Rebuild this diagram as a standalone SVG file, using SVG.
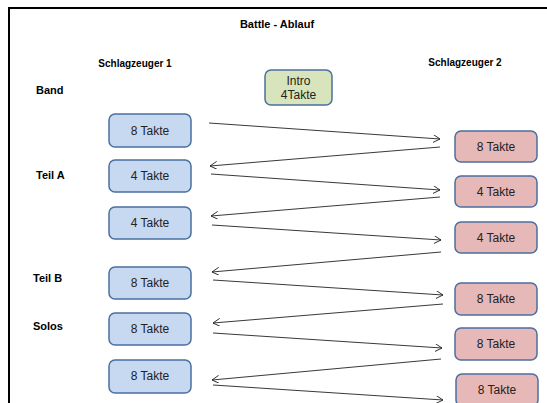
<svg xmlns="http://www.w3.org/2000/svg" width="547" height="403" viewBox="0 0 547 403">
<style>
.bl{font-family:"Liberation Sans",Arial,sans-serif;font-weight:bold;fill:#000}
.t{font-family:"Liberation Sans",Arial,sans-serif;font-size:12px;fill:#222;text-anchor:middle}
.b1{fill:#c6d9f0;stroke:#4a6fa0;stroke-width:1.5}
.b2{fill:#e6b8b7;stroke:#4a6fa0;stroke-width:1.5}
.b3{fill:#d7e4bc;stroke:#4a6fa0;stroke-width:1.5}
.c line{stroke:#222;stroke-width:0.9;marker-end:url(#ah)}
</style>
<defs>
<marker id="ah" markerUnits="userSpaceOnUse" markerWidth="10" markerHeight="10" refX="7" refY="4" orient="auto">
<path d="M0,0 L7,4 L0,8" fill="none" stroke="#222" stroke-width="0.9"/>
</marker>
</defs>
<rect x="0" y="0" width="547" height="403" fill="#fff"/>
<rect x="9" y="8" width="600" height="500" fill="none" stroke="#000" stroke-width="2"/>
<text class="bl" x="277" y="28" font-size="11" text-anchor="middle">Battle - Ablauf</text>
<text class="bl" x="135" y="67" font-size="10" text-anchor="middle">Schlagzeuger 1</text>
<text class="bl" x="465" y="66" font-size="10" text-anchor="middle">Schlagzeuger 2</text>
<text class="bl" x="36" y="94" font-size="11">Band</text>
<text class="bl" x="36" y="179" font-size="11">Teil A</text>
<text class="bl" x="33" y="282" font-size="11">Teil B</text>
<text class="bl" x="33" y="330" font-size="11">Solos</text>
<g id="intro"><rect class="b3" x="265" y="70" width="67" height="35" rx="6"/><text class="t" x="298.5" y="85">Intro</text><text class="t" x="298.5" y="99">4Takte</text></g>
<g id="l1"><rect class="b1" x="109" y="114" width="82" height="33" rx="6"/><text class="t" x="150" y="135">8 Takte</text></g>
<g id="l2"><rect class="b1" x="109" y="160" width="82" height="32" rx="6"/><text class="t" x="150" y="180">4 Takte</text></g>
<g id="l3"><rect class="b1" x="109" y="207" width="82" height="32" rx="6"/><text class="t" x="150" y="227">4 Takte</text></g>
<g id="l4"><rect class="b1" x="109" y="267" width="82" height="32" rx="6"/><text class="t" x="150" y="287">8 Takte</text></g>
<g id="l5"><rect class="b1" x="109" y="313" width="82" height="32" rx="6"/><text class="t" x="150" y="333">8 Takte</text></g>
<g id="l6"><rect class="b1" x="109" y="360" width="82" height="33" rx="6"/><text class="t" x="150" y="380">8 Takte</text></g>
<g id="r1"><rect class="b2" x="455" y="131" width="82" height="31" rx="6"/><text class="t" x="496" y="151">8 Takte</text></g>
<g id="r2"><rect class="b2" x="455" y="176" width="82" height="31" rx="6"/><text class="t" x="496" y="196">4 Takte</text></g>
<g id="r3"><rect class="b2" x="455" y="222" width="82" height="31" rx="6"/><text class="t" x="496" y="242">4 Takte</text></g>
<g id="r4"><rect class="b2" x="455" y="283" width="82" height="32" rx="6"/><text class="t" x="496" y="303">8 Takte</text></g>
<g id="r5"><rect class="b2" x="455" y="328" width="82" height="32" rx="6"/><text class="t" x="496" y="348">8 Takte</text></g>
<g id="r6"><rect class="b2" x="456" y="374" width="82" height="32" rx="6"/><text class="t" x="497" y="394">8 Takte</text></g>
<g id="connectors" class="c">
<line x1="209" y1="123" x2="440" y2="139"/>
<line x1="440" y1="147" x2="210" y2="166"/>
<line x1="211" y1="174" x2="440" y2="190"/>
<line x1="440" y1="197" x2="211" y2="216"/>
<line x1="212" y1="225" x2="441" y2="240"/>
<line x1="441" y1="252" x2="212" y2="272"/>
<line x1="213" y1="280" x2="443" y2="295"/>
<line x1="443" y1="304" x2="213" y2="323"/>
<line x1="213" y1="333" x2="442" y2="348"/>
<line x1="441" y1="359" x2="212" y2="380"/>
<line x1="213" y1="385" x2="443" y2="400"/>
</g>
</svg>
